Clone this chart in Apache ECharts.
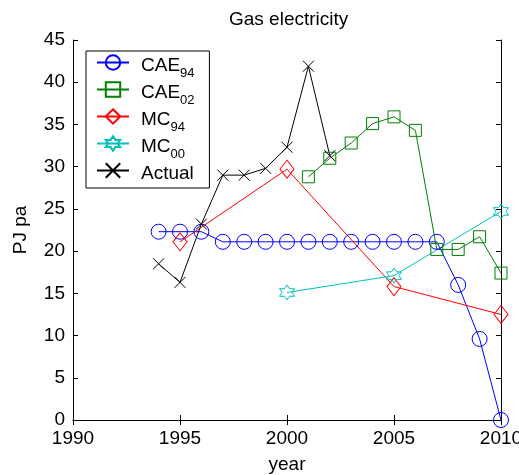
<!DOCTYPE html>
<html>
<head>
<meta charset="utf-8">
<script src="https://cdn.jsdelivr.net/npm/echarts@6/dist/echarts.min.js"></script>
<style>html,body{margin:0;padding:0;background:#fff;}#c{width:519px;height:475px;}</style>
</head>
<body>
<div id="c"></div>
<script>
// ---- data ----
var cae94Years = [1994,1995,1996,1997,1998,1999,2000,2001,2002,2003,2004,2005,2006,2007,2008,2009,2010];
var cae94Vals  = [22.3,22.3,22.3,21.1,21.1,21.1,21.1,21.1,21.1,21.1,21.1,21.1,21.1,21.1,16.0,9.6,0];
var cae02Years = [2001,2002,2003,2004,2005,2006,2007,2008,2009,2010];
var cae02Vals  = [28.8,31.0,32.8,35.1,35.9,34.3,20.2,20.2,21.7,17.4];
var mc94Years  = [1995,2000,2005,2010];
var mc94Vals   = [21.1,29.7,15.8,12.5];
var mc00Years  = [2000,2005,2010];
var mc00Vals   = [15.1,17.1,24.7];
var actualYears = [1994,1995,1996,1997,1998,1999,2000,2001,2002];
var actualVals  = [18.5,16.3,23.2,29.0,29.0,29.8,32.3,41.9,31.3];
var seriesNames = ['CAE94','CAE02','MC94','MC00','Actual'];
var xTicks = [1990,1995,2000,2005,2010];

function pairs(xs, ys){ return xs.map(function(x,i){ return [x, ys[i]]; }); }

var hexagram = 'path://M10,0L12.89,5L18.66,5L15.77,10L18.66,15L12.89,15L10,20L7.11,15L1.34,15L4.23,10L1.34,5L7.11,5Z';
var cross = 'path://M0,0L10,10M10,0L0,10';

function mk(name, data, color, symbol, size){
  return {
    name: name, type: 'line', data: data, clip: false,
    symbol: symbol, symbolSize: size,
    lineStyle: {color: color, width: 1},
    itemStyle: {color: 'rgba(0,0,0,0)', borderColor: color, borderWidth: 1},
    emphasis: {disabled: true},
    animation: false
  };
}

var chart = echarts.init(document.getElementById('c'));
var axisCommon = {
  axisLine: {show: true, lineStyle: {color: '#000', width: 1}},
  axisTick: {show: true, inside: true, length: 5, lineStyle: {color: '#000'}},
  splitLine: {show: false}
};
var font = 'Liberation Sans, Arial, sans-serif';
chart.setOption({
  backgroundColor: '#fff',
  animation: false,
  title: {
    text: 'Gas electricity', left: 224, top: 5,
    textStyle: {fontSize: 19, fontWeight: 'normal', color: '#000', fontFamily: font}
  },
  grid: {left: 73, right: 18, top: 40, bottom: 55, outerBoundsMode: 'none', containLabel: false},
  legend: {
    data: seriesNames,
    orient: 'vertical', left: 86, top: 51,
    itemWidth: 32, itemHeight: 18, itemGap: 0,
    padding: [2, 12, 0, 10],
    borderColor: '#000', borderWidth: 1, backgroundColor: '#fff',
    textStyle: {
      color: '#000', fontFamily: font, fontSize: 19,
      rich: {
        m: {fontSize: 19, fontFamily: font, color: '#000', lineHeight: 19, verticalAlign: 'top', padding: [3,0,0,7]},
        s: {fontSize: 13, fontFamily: font, color: '#000', lineHeight: 13, verticalAlign: 'top', padding: [14,0,0,0]}
      }
    },
    formatter: function(name){
      var m = name.match(/^([A-Za-z]+)(\d+)$/);
      if (m) return '{m|' + m[1] + '}{s|' + m[2] + '}';
      return '{m|' + name + '}{s| }';
    }
  },
  xAxis: [
    Object.assign({type: 'value', position: 'bottom', min: 1990, max: 2010, interval: 5,
      name: 'year', nameLocation: 'middle', nameGap: 35,
      nameTextStyle: {fontSize: 19, color: '#000', fontFamily: font},
      axisLabel: {fontSize: 19, color: '#000', fontFamily: font, margin: 9,
        formatter: function(v){ return xTicks.indexOf(v) >= 0 ? String(v) : ''; }}}, axisCommon),
    Object.assign({type: 'value', position: 'top', min: 1990, max: 2010, interval: 5,
      axisLabel: {show: false}}, axisCommon)
  ],
  yAxis: [
    Object.assign({type: 'value', position: 'left', min: 0, max: 45, interval: 5,
      name: 'PJ pa', nameLocation: 'middle', nameGap: 43, nameRotate: 90,
      nameTextStyle: {fontSize: 19, color: '#000', fontFamily: font},
      axisLabel: {fontSize: 19, color: '#000', fontFamily: font, margin: 8}}, axisCommon),
    Object.assign({type: 'value', position: 'right', min: 0, max: 45, interval: 5,
      axisLabel: {show: false}}, axisCommon)
  ],
  series: [
    mk('CAE94', pairs(cae94Years, cae94Vals), '#0000ff', 'circle', 15),
    mk('CAE02', pairs(cae02Years, cae02Vals), '#008000', 'rect', 12),
    mk('MC94', pairs(mc94Years, mc94Vals), '#ff0000', 'diamond', [14, 18]),
    mk('MC00', pairs(mc00Years, mc00Vals), '#00bfbf', hexagram, 15),
    mk('Actual', pairs(actualYears, actualVals), '#000000', cross, 11)
  ]
});
</script>
</body>
</html>
